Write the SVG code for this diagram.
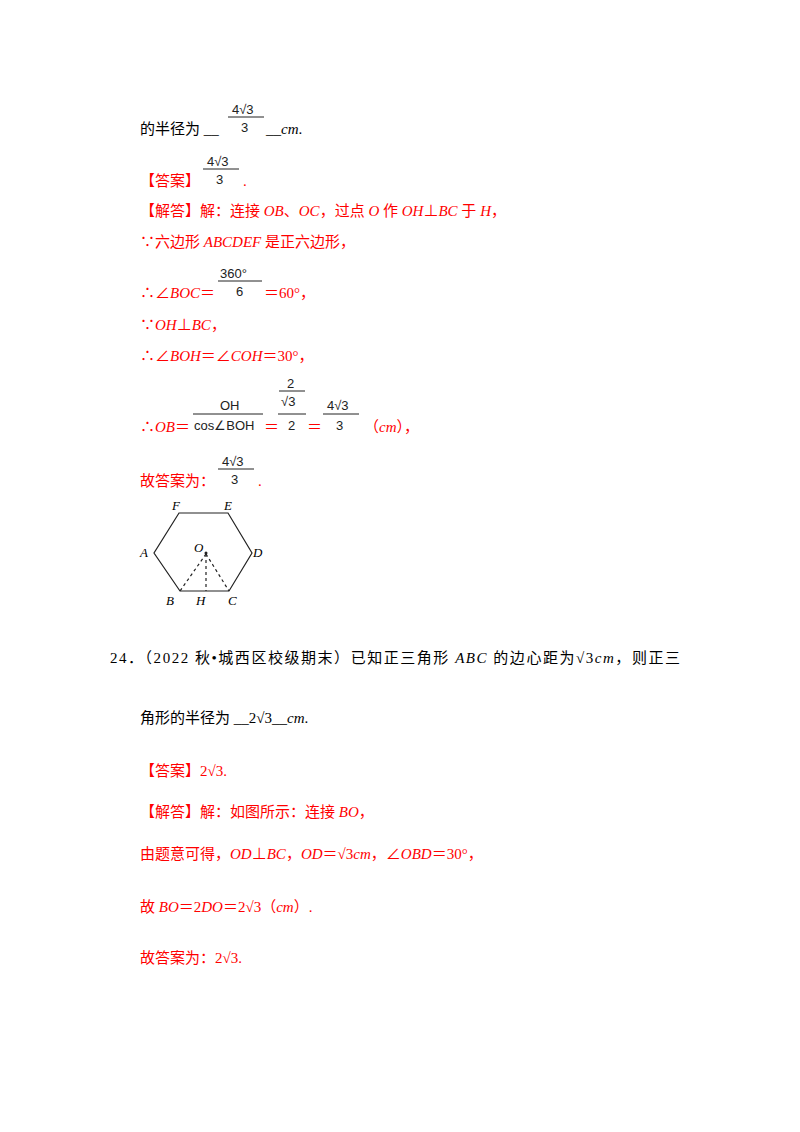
<svg xmlns="http://www.w3.org/2000/svg" width="800" height="1132" viewBox="0 0 800 1132">
<style>
text{font-family:"Liberation Serif","Noto Sans CJK SC",serif;font-size:15px;fill:#000}
.r{fill:#f00}
.i{font-style:italic}
.f{font-family:"Liberation Sans","Noto Sans",sans-serif;font-size:13px;fill:#222}
.fl{stroke:#222;stroke-width:1}
.h{stroke:#222;stroke-width:1.2;fill:none}
.d{stroke:#222;stroke-width:1.2;stroke-dasharray:3,3;fill:none}
.hl{font-style:italic;font-size:13px}
</style>
<rect width="800" height="1132" fill="#fff"/>
<text x="140" y="134">的半径为 __</text>
<text class="f" x="232" y="114">4√3</text><line class="fl" x1="228" y1="117" x2="264" y2="117"/><text class="f" x="241" y="132">3</text>
<text x="266" y="134">__<tspan class="i">cm</tspan>.</text>
<text class="r" x="140" y="186">【答案】</text>
<text class="f" x="207" y="166">4√3</text><line class="fl" x1="203" y1="169" x2="239" y2="169"/><text class="f" x="216" y="184">3</text>
<text class="r" x="243" y="186">.</text>
<text class="r" x="140" y="216">【解答】解：连接 <tspan class="i">OB</tspan>、<tspan class="i">OC</tspan>，过点 <tspan class="i">O</tspan> 作 <tspan class="i">OH</tspan>⊥<tspan class="i">BC</tspan> 于 <tspan class="i">H</tspan>，</text>
<text class="r" x="140" y="247">∵六边形 <tspan class="i">ABCDEF</tspan> 是正六边形，</text>
<text class="r" x="140" y="298">∴∠<tspan class="i">BOC</tspan>＝</text>
<text class="f" x="220" y="278">360°</text><line class="fl" x1="218" y1="281" x2="262" y2="281"/><text class="f" x="236" y="296">6</text>
<text class="r" x="264" y="298">＝60°，</text>
<text class="r" x="140" y="330">∵<tspan class="i">OH</tspan>⊥<tspan class="i">BC</tspan>，</text>
<text class="r" x="140" y="361">∴∠<tspan class="i">BOH</tspan>＝∠<tspan class="i">COH</tspan>＝30°，</text>
<text class="r" x="140" y="432">∴<tspan class="i">OB</tspan>＝</text>
<text class="f" x="220" y="410">OH</text><line class="fl" x1="193" y1="414" x2="263" y2="414"/><text class="f" x="194" y="430">cos∠BOH</text>
<text class="r" x="264" y="432">＝</text>
<text class="f" x="287" y="388">2</text><line class="fl" x1="279" y1="391" x2="305" y2="391"/><text class="f" x="281" y="406">√3</text>
<line class="fl" x1="278" y1="414" x2="306" y2="414"/><text class="f" x="288" y="430">2</text>
<text class="r" x="307" y="432">＝</text>
<text class="f" x="327" y="410">4√3</text><line class="fl" x1="323" y1="414" x2="359" y2="414"/><text class="f" x="336" y="430">3</text>
<text class="r" x="364" y="432">（<tspan class="i">cm</tspan>），</text>
<text class="r" x="140" y="486">故答案为：</text>
<text class="f" x="222" y="466">4√3</text><line class="fl" x1="218" y1="469" x2="254" y2="469"/><text class="f" x="231" y="484">3</text>
<text class="r" x="258" y="486">.</text>
<g id="hexagon">
<polygon class="h" points="179,513 228,513 252,553 229,591 180,591 154,553"/>
<line class="d" x1="206" y1="554" x2="180" y2="591"/>
<line class="d" x1="206" y1="554" x2="206" y2="591"/>
<line class="d" x1="206" y1="554" x2="229" y2="591"/>
<circle cx="206" cy="553" r="1.5" fill="#222"/>
<text class="hl" x="172" y="510">F</text><text class="hl" x="224" y="510">E</text>
<text class="hl" x="253" y="557">D</text><text class="hl" x="140" y="557">A</text>
<text class="hl" x="194" y="552">O</text>
<text class="hl" x="166" y="605">B</text><text class="hl" x="196" y="605">H</text><text class="hl" x="228" y="605">C</text>
</g>
<text x="110" y="663" textLength="570" lengthAdjust="spacing">24．（2022 秋•城西区校级期末）已知正三角形 <tspan class="i">ABC</tspan> 的边心距为√3<tspan class="i">cm</tspan>，则正三</text>
<text x="140" y="723">角形的半径为 __2√3__<tspan class="i">cm</tspan>.</text>
<text class="r" x="140" y="776">【答案】2√3.</text>
<text class="r" x="140" y="817">【解答】解：如图所示：连接 <tspan class="i">BO</tspan>，</text>
<text class="r" x="140" y="859">由题意可得，<tspan class="i">OD</tspan>⊥<tspan class="i">BC</tspan>，<tspan class="i">OD</tspan>＝√3<tspan class="i">cm</tspan>，∠<tspan class="i">OBD</tspan>＝30°，</text>
<text class="r" x="140" y="912">故 <tspan class="i">BO</tspan>＝2<tspan class="i">DO</tspan>＝2√3（<tspan class="i">cm</tspan>）.</text>
<text class="r" x="140" y="963">故答案为：2√3.</text>
</svg>
